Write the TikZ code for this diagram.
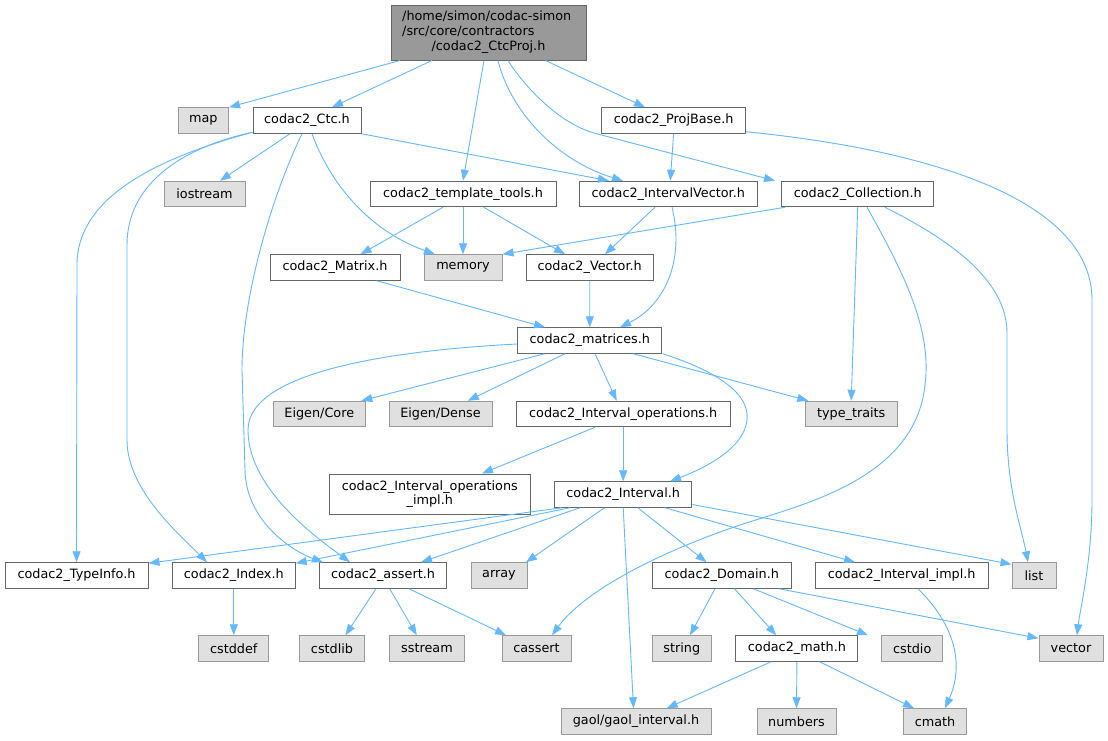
\documentclass[tikz,border=0pt]{standalone}
\usepackage{fontspec}
\setmainfont{DejaVu Sans}
\usetikzlibrary{arrows.meta}
\definecolor{edgec}{HTML}{63B8FF}
\definecolor{bordc}{HTML}{666666}
\definecolor{gbord}{HTML}{999999}
\definecolor{gfill}{HTML}{E0E0E0}
\definecolor{rootfill}{HTML}{999999}
\newcommand\fsz{\fontsize{12.8pt}{13.6pt}\selectfont}
\begin{document}
\begin{tikzpicture}[x=1pt,y=-1pt,
  box/.style={draw=bordc, fill=white, line width=1pt, inner sep=0pt, minimum height=25.5pt, font=\fsz, align=center},
  sys/.style={box, draw=gbord, fill=gfill},
  conn/.style={draw=edgec, line width=0.9pt, -{Triangle[length=11pt,width=8pt]}},
  txt/.style={inner sep=0pt, font=\fsz}
]
\fill[white] (0,0) rectangle (1108,740);
\useasboundingbox (0,0) rectangle (1108,740);

% root
\node[box, fill=rootfill, minimum width=195pt, minimum height=55pt] (root) at (488.5,32.5) {};
\node[txt, anchor=west] (rootl1) at (402,16.7) {/home/simon/codac-simon};
\node[txt, anchor=west] (rootl2) at (402,31.7) {/src/core/contractors};
\node[txt] (rootl3) at (488.5,46.7) {/codac2\_CtcProj.h};

% row 1
\node[sys, minimum width=50.5pt] (map) at (203.3,120.5) {map};
\node[box, minimum width=108pt] (ctc) at (307,120.5) {codac2\_Ctc.h};
\node[box, minimum width=144pt] (projbase) at (673.6,120.5) {codac2\_ProjBase.h};
% row 2
\node[sys, minimum width=81pt] (iostream) at (204.5,194) {iostream};
\node[box, minimum width=186pt] (template) at (463,194) {codac2\_template\_tools.h};
\node[box, minimum width=177.5pt] (intvec) at (668.3,194) {codac2\_IntervalVector.h};
\node[box, minimum width=152pt] (collection) at (857.7,194) {codac2\_Collection.h};
% row 3
\node[box, minimum width=130pt] (matrix) at (335,267.5) {codac2\_Matrix.h};
\node[sys, minimum width=78pt] (memory) at (463,267.5) {memory};
\node[box, minimum width=127pt] (vectorh) at (589.7,267.5) {codac2\_Vector.h};
% row 4
\node[box, minimum width=144.3pt] (matrices) at (589.8,340.5) {codac2\_matrices.h};
% row 5
\node[sys, minimum width=92pt] (eigencore) at (319.3,414) {Eigen/Core};
\node[sys, minimum width=103pt] (eigendense) at (440.5,414) {Eigen/Dense};
\node[box, minimum width=213.7pt] (intops) at (623.2,414) {codac2\_Interval\_operations.h};
\node[sys, minimum width=92.3pt] (typetraits) at (851.2,414) {type\_traits};
% row 6
\node[box, minimum width=201.5pt, minimum height=40pt] (intopsimpl) at (429.8,494) {codac2\_Interval\_operations\\\_impl.h};
\node[box, minimum width=137.5pt] (interval) at (623.2,494.5) {codac2\_Interval.h};
% row 7
\node[box, minimum width=143pt] (typeinfo) at (76.5,575.5) {codac2\_TypeInfo.h};
\node[box, minimum width=123pt] (index) at (233.8,575.5) {codac2\_Index.h};
\node[box, minimum width=127pt] (assert) at (383,575.5) {codac2\_assert.h};
\node[sys, minimum width=56pt] (array) at (499,575.5) {array};
\node[box, minimum width=139pt] (domain) at (721.8,575.5) {codac2\_Domain.h};
\node[box, minimum width=173.3pt] (intimpl) at (901.7,575.5) {codac2\_Interval\_impl.h};
\node[sys, minimum width=44pt] (list) at (1034,575.5) {list};
% row 8
\node[sys, minimum width=70pt] (cstddef) at (233.8,648.5) {cstddef};
\node[sys, minimum width=65pt] (cstdlib) at (332,648.5) {cstdlib};
\node[sys, minimum width=74.5pt] (sstream) at (427,648.5) {sstream};
\node[sys, minimum width=69pt] (cassert) at (536.5,648.5) {cassert};
\node[sys, minimum width=58.5pt] (string) at (681.8,648.5) {string};
\node[box, minimum width=122pt] (mathh) at (796.9,648.5) {codac2\_math.h};
\node[sys, minimum width=61pt] (cstdio) at (912.2,648.5) {cstdio};
\node[sys, minimum width=64pt] (vector) at (1071,648.5) {vector};
% row 9
\node[sys, minimum width=150pt] (gaol) at (636,721.5) {gaol/gaol\_interval.h};
\node[sys, minimum width=79pt] (numbers) at (796.5,721.5) {numbers};
\node[sys, minimum width=63pt] (cmath) at (935,721.5) {cmath};

% edges from root
\draw[conn] ([xshift=-88.5pt]root.south) -- (map.north east);
\draw[conn] ([xshift=-56.5pt]root.south) -- ([xshift=25pt]ctc.north);
\draw[conn] ([xshift=-4.5pt]root.south) -- (template.north);
\draw[conn] ([xshift=9.5pt]root.south) .. controls (510,110) and (555,160) .. ([xshift=-45.3pt]intvec.north);
\draw[conn] ([xshift=19.5pt]root.south) .. controls (520,80) and (555,122) .. (594,133) -- ([xshift=-82.7pt]collection.north);
\draw[conn] ([xshift=57pt]root.south) -- ([xshift=-28.6pt]projbase.north);

% from ctc
\draw[conn] ([xshift=-17pt]ctc.south) -- ([xshift=15.5pt]iostream.north);
\draw[conn] ([xshift=5pt]ctc.south) .. controls (330,183) and (368,230) .. ([xshift=-28pt]memory.north);
\draw[conn] (ctc.south east) -- ([xshift=-59.3pt]intvec.north);
\draw[conn] ([yshift=1.5pt]ctc.south west) .. controls (150,160) and (77,200) .. (77,265) -- (typeinfo.north);
\draw[conn] ([yshift=1.5pt]ctc.south west) .. controls (180,148) and (127,185) .. (127,245) -- (127,440) .. controls (127,490) and (180,535) .. ([xshift=-26.8pt]index.north);
\draw[conn] ([xshift=-5pt]ctc.south) .. controls (270,200) and (242,300) .. (242,370) -- (245,470) .. controls (246,520) and (290,550) .. ([xshift=-60pt]assert.north);

% from projbase
\draw[conn] (projbase.south) -- ([xshift=2pt]intvec.north);
\draw[conn] ([yshift=2pt]projbase.south east) .. controls (930,150) and (1092,200) .. (1092,300) -- (1092,500) .. controls (1092,560) and (1080,610) .. ([xshift=6pt]vector.north);

% from template
\draw[conn] ([xshift=-20pt]template.south) -- ([xshift=25.6pt]matrix.north);
\draw[conn] (template.south) -- (memory.north);
\draw[conn] ([xshift=20.7pt]template.south) -- ([xshift=-24.7pt]vectorh.north);

% from intvec
\draw[conn] ([xshift=-13.3pt]intvec.south) -- ([xshift=15.3pt]vectorh.north);
\draw[conn] ([xshift=3.7pt]intvec.south) .. controls (685,260) and (665,305) .. ([xshift=30.2pt]matrices.north);

% from collection
\draw[conn] ([xshift=-72.7pt]collection.south) -- (memory.north east);
\draw[conn] (collection.south) -- (typetraits.north);
\draw[conn] ([xshift=9.3pt]collection.south) .. controls (905,275) and (932,330) .. (925,385) .. controls (915,480) and (800,505) .. (740,525) .. controls (660,552) and (585,590) .. ([xshift=15.5pt]cassert.north);
\draw[conn] ([xshift=27.3pt]collection.south) .. controls (950,240) and (1007,280) .. (1007,333) -- (1007,430) .. controls (1007,490) and (1022,530) .. ([xshift=-6pt]list.north);

% to matrices
\draw[conn] ([xshift=41.7pt]matrix.south) -- ([xshift=-44.8pt]matrices.north);
\draw[conn] (vectorh.south) -- (matrices.north);

% from matrices
\draw[conn] ([yshift=-3.5pt]matrices.west) .. controls (400,350) and (248,370) .. (248,430) .. controls (248,490) and (320,540) .. ([xshift=-33pt]assert.north);
\draw[conn] ([xshift=-45.3pt]matrices.south) -- ([xshift=42pt]eigencore.north);
\draw[conn] ([xshift=-24.8pt]matrices.south) -- ([xshift=27.3pt]eigendense.north);
\draw[conn] ([xshift=5.2pt]matrices.south) -- ([xshift=-6.5pt]intops.north);
\draw[conn] ([xshift=43.5pt]matrices.south) -- ([xshift=-42.9pt]typetraits.north);
\draw[conn] (matrices.south east) .. controls (720,372) and (750,395) .. (747,420) .. controls (744,450) and (700,470) .. ([xshift=46.8pt]interval.north);

% from intops
\draw[conn] ([xshift=-28.2pt]intops.south) -- ([xshift=52.2pt]intopsimpl.north);
\draw[conn] (intops.south) -- (interval.north);

% from interval
\draw[conn] ([xshift=-61.2pt]interval.south) -- ([yshift=-1pt]typeinfo.north east);
\draw[conn] ([xshift=-53.2pt]interval.south) -- ([yshift=-1pt]index.north east);
\draw[conn] ([xshift=-43.2pt]interval.south) -- ([xshift=38pt]assert.north);
\draw[conn] ([xshift=-18.7pt]interval.south) -- ([xshift=27pt]array.north);
\draw[conn] (interval.south) -- ([xshift=-2.5pt]gaol.north);
\draw[conn] ([xshift=14.6pt]interval.south) -- ([xshift=-15.2pt]domain.north);
\draw[conn] ([xshift=41.8pt]interval.south) -- ([xshift=-46.7pt]intimpl.north);
\draw[conn] ([yshift=-10pt]interval.east) -- ([yshift=-2pt]list.north west);

% lower rows
\draw[conn] (index.south) -- (cstddef.north);
\draw[conn] ([xshift=-7pt]assert.south) -- ([xshift=13.4pt]cstdlib.north);
\draw[conn] ([xshift=6.7pt]assert.south) -- ([xshift=-10.2pt]sstream.north);
\draw[conn] ([xshift=26pt]assert.south) -- ([xshift=-30.5pt]cassert.north);
\draw[conn] ([xshift=-6.8pt]domain.south) -- ([xshift=8.2pt]string.north);
\draw[conn] ([xshift=12.7pt]domain.south) -- ([xshift=-20.6pt]mathh.north);
\draw[conn] ([xshift=31.6pt]domain.south) -- ([xshift=-44.2pt]cstdio.north);
\draw[conn] ([xshift=57.2pt]domain.south) -- ([yshift=-3pt]vector.north west);
\draw[conn] ([xshift=16.3pt]intimpl.south) .. controls (960,630) and (962,670) .. ([xshift=10pt]cmath.north);
\draw[conn] ([xshift=-25.9pt]mathh.south) -- ([xshift=30.7pt]gaol.north);
\draw[conn] (mathh.south) -- (numbers.north);
\draw[conn] ([xshift=22.8pt]mathh.south) -- ([xshift=-21pt]cmath.north);
\end{tikzpicture}
\end{document}
